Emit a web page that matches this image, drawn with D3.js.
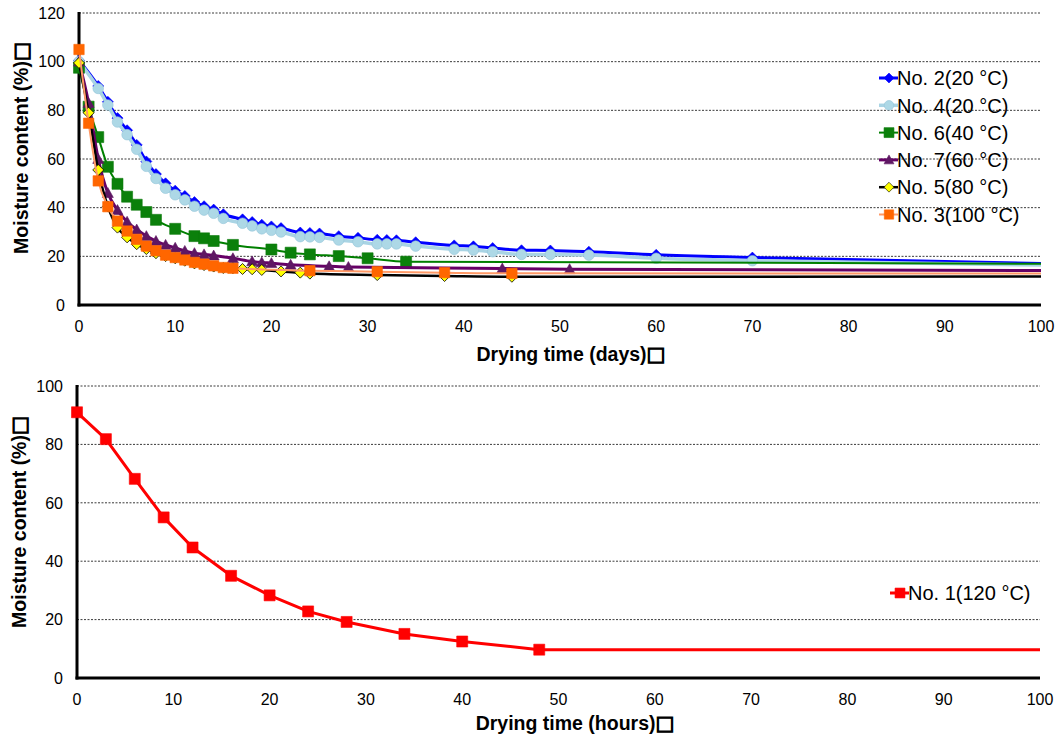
<!DOCTYPE html>
<html><head><meta charset="utf-8">
<script src="https://cdn.jsdelivr.net/npm/d3@7"></script>
<style>
body{margin:0;background:#fff}
text{font-family:"Liberation Sans",Arial,Helvetica,sans-serif;fill:#000}
</style>
</head><body>
<svg id="chart" width="1062" height="740"></svg>
<script>
// ---------- data (top chart: drying time in days) ----------
const xTicksTop = [0,10,20,30,40,50,60,70,80,90,100];
const yTicksTop = [0,20,40,60,80,100,120];

const daysNo2 = [0,2,3,4,5,6,7,8,9,10,11,12,13,14,15,17,18,19,20,21,23,24,25,27,29,31,32,33,35,39,41,43,46,49,53,60,70,120];
const valsNo2 = [100.5,90,83.5,76.8,71.8,65.8,59,53.8,50,47,44.8,42.3,40.6,39.2,37.3,35.2,34.1,33,32.3,31.6,29.8,29.6,29.4,28.3,27.6,26.8,26.7,26.6,25.8,24.5,24.1,23.4,22.5,22.4,21.9,20.6,19.5,15.5];

const daysNo4 = [0,2,3,4,5,6,7,8,9,10,11,12,13,14,15,17,18,19,20,21,23,24,25,27,29,31,32,33,35,39,41,43,46,49,53,60,70,120];
const valsNo4 = [100,89,82.2,75.2,70,64,57,52,48,45.3,43.2,40.6,39,37.7,35.6,33.6,32.5,31.3,30.7,30,28.1,28,27.8,26.7,26,25.1,25.1,25.1,24.2,22.9,22.6,21.9,20.8,20.8,20.5,19.2,18.2,15.2];

const daysNo6 = [0,1,2,3,4,5,6,7,8,10,12,13,14,16,20,22,24,27,30,34,120];
const valsNo6 = [97.5,81.5,69,56.8,49.8,44.5,41.2,38.2,35,31.3,28.3,27.4,26.3,24.7,22.8,21.5,20.8,20.1,19.2,17.8,16.7];

const daysNo7 = [0,1,2,3,4,5,6,7,8,9,10,11,12,13,14,16,18,19,20,22,26,28,44,51,120];
const valsNo7 = [100,83,60,46,39,34.2,31,28.3,26.3,24.7,23.5,22.2,21.3,20.8,20.3,19.2,17.9,17.5,17.2,16.5,15.9,15.6,15.0,14.7,13.9];

const daysNo5 = [0,1,2,3,4,5,6,7,8,9,10,11,12,13,14,15,16,17,18,19,21,23,24,31,38,45,120];
const valsNo5 = [99.5,79,55.5,40.5,31.8,27.8,25,23,21.3,20.1,19.2,18.2,17.1,16.4,15.8,15.2,15.1,14.8,14.7,14.4,13.8,13.3,12.9,12.3,11.9,11.6,11.7];

const daysNo3 = [0,1,2,3,4,5,6,7,8,9,10,11,12,13,14,15,16,24,31,38,45,120];
const valsNo3 = [105,74.7,51,40.4,34.5,30.4,27,24.2,22.3,20.5,19.5,18.5,17.5,16.8,16.1,15.4,15.1,14.1,13.7,13.3,13.0,12.9];

const legendTop = ["No. 2(20 °C)","No. 4(20 °C)","No. 6(40 °C)","No. 7(60 °C)","No. 5(80 °C)","No. 3(100 °C)"];

// ---------- data (bottom chart: drying time in hours) ----------
const xTicksBottom = [0,10,20,30,40,50,60,70,80,90,100];
const yTicksBottom = [0,20,40,60,80,100];
const hoursNo1 = [0,3,6,9,12,16,20,24,28,34,40,48,120];
const valsNo1 = [91,81.8,68.2,55,44.7,35,28.3,22.8,19.2,15.1,12.5,9.7,9.7];
const legendBottom = ["No. 1(120 °C)"];

const titleTopX = "Drying time (days)";
const titleBottomX = "Drying time (hours)";
const titleY = "Moisture content (%)";
const boxChar = "\u25A1";

// ---------- styles ----------
const seriesTop = [
  {name:legendTop[0], days:daysNo2, vals:valsNo2, line:"#0000ff", lw:3,   shape:"diamond",  fill:"#0000ff", stroke:"#0000ff", size:5.5},
  {name:legendTop[1], days:daysNo4, vals:valsNo4, line:"#a9d4e4", lw:3.5, shape:"circle",   fill:"#add8e6", stroke:"#93c4d8", size:5.3},
  {name:legendTop[2], days:daysNo6, vals:valsNo6, line:"#008000", lw:2,   shape:"square",   fill:"#0b800b", stroke:"#0b7a0b", size:5.5},
  {name:legendTop[3], days:daysNo7, vals:valsNo7, line:"#660066", lw:3,   shape:"triangle", fill:"#5e1763", stroke:"#5e1763", size:5.5},
  {name:legendTop[4], days:daysNo5, vals:valsNo5, line:"#000000", lw:2.5, shape:"diamond",  fill:"#ffff00", stroke:"#000000", size:5.5},
  {name:legendTop[5], days:daysNo3, vals:valsNo3, line:"#ff9966", lw:2,   shape:"square",   fill:"#ff6600", stroke:"#ff6600", size:5.2}
];
const seriesBottom = [
  {name:legendBottom[0], days:hoursNo1, vals:valsNo1, line:"#ff0000", lw:3, shape:"square", fill:"#ff0000", stroke:"#ff0000", size:5.5}
];

const svg = d3.select("#chart");

function markerPath(shape, s){
  if(shape==="diamond") return `M0,${-s}L${s},0L0,${s}L${-s},0Z`;
  if(shape==="square") return `M${-s},${-s}H${s}V${s}H${-s}Z`;
  if(shape==="triangle") return `M0,${-s}L${s},${s*0.8}L${-s},${s*0.8}Z`;
  return d3.symbol(d3.symbolCircle, Math.PI*s*s)();
}

function titleText(sel, str){
  sel.append("tspan").text(str);
  sel.append("tspan").attr("font-family","DejaVu Sans").attr("font-weight","bold").attr("font-size",20)
    .attr("stroke","#000").attr("stroke-width",1.1).text(boxChar);
}

function drawChart(cfg){
  const g = svg.append("g");
  const x = d3.scaleLinear().domain([0,100]).range([cfg.left, cfg.right]);
  const y = d3.scaleLinear().domain([0,cfg.ymax]).range([cfg.bottom, cfg.top]);

  // gridlines
  g.append("g").selectAll("line").data(cfg.yTicks.filter(d=>d>0)).join("line")
    .attr("x1", cfg.left).attr("x2", cfg.right)
    .attr("y1", d=>y(d)).attr("y2", d=>y(d))
    .attr("stroke","#3a3a3a").attr("stroke-width",1).attr("stroke-dasharray","2,1.5");

  // y tick labels
  g.append("g").selectAll("text").data(cfg.yTicks).join("text")
    .attr("x", cfg.left - 14).attr("y", d=>y(d)).attr("dy","0.36em")
    .attr("text-anchor","end").attr("font-size",16).text(d=>d);
  // x tick labels
  g.append("g").selectAll("text").data(cfg.xTicks).join("text")
    .attr("x", d=>x(d)).attr("y", cfg.bottom + 21).attr("dy","0.36em")
    .attr("text-anchor","middle").attr("font-size",16).text(d=>d);

  // axes
  g.append("line").attr("x1",cfg.left).attr("x2",cfg.left).attr("y1",cfg.top-1).attr("y2",cfg.bottom+1.5)
    .attr("stroke","#000").attr("stroke-width",3);
  g.append("line").attr("x1",cfg.left-1.5).attr("x2",cfg.right).attr("y1",cfg.bottom).attr("y2",cfg.bottom)
    .attr("stroke","#000").attr("stroke-width",3);

  // titles
  g.append("text").attr("x", cfg.xTitleX).attr("y", cfg.xTitleY).attr("text-anchor","middle")
    .attr("font-size",19.5).attr("font-weight","bold").call(titleText, cfg.xTitle);
  g.append("text").attr("transform",`translate(${cfg.yTitleX},${cfg.yTitleY}) rotate(-90)`)
    .attr("text-anchor","middle").attr("font-size",19.5).attr("font-weight","bold").call(titleText, titleY);

  // clip
  const cid = "clip"+cfg.id;
  svg.append("clipPath").attr("id",cid).append("rect")
    .attr("x", cfg.left-20).attr("y", cfg.top-20).attr("width", cfg.right-cfg.left+20).attr("height", cfg.bottom-cfg.top+40);

  const plot = g.append("g").attr("clip-path",`url(#${cid})`);
  const line = d3.line().x(d=>x(d[0])).y(d=>y(d[1])).curve(cfg.curve);
  cfg.series.forEach(s=>{
    const pts = s.days.map((d,i)=>[d,s.vals[i]]);
    const sg = plot.append("g");
    sg.append("path").datum(pts).attr("d",line).attr("fill","none")
      .attr("stroke",s.line).attr("stroke-width",s.lw).attr("stroke-linejoin","round");
    sg.selectAll("path.m").data(pts.filter(p=>p[0]<=100)).join("path").attr("class","m")
      .attr("transform",p=>`translate(${x(p[0])},${y(p[1])})`)
      .attr("d",markerPath(s.shape,s.size))
      .attr("fill",s.fill).attr("stroke",s.stroke).attr("stroke-width",s.stroke==="#000000"?0.8:0.6);
  });

  // legend
  const lg = g.append("g");
  cfg.series.forEach((s,i)=>{
    const ly = cfg.legY + i*cfg.legStep;
    lg.append("line").attr("x1",cfg.legX-10).attr("x2",cfg.legX+9).attr("y1",ly).attr("y2",ly)
      .attr("stroke",s.line).attr("stroke-width",s.lw);
    lg.append("path").attr("transform",`translate(${cfg.legX},${ly})`).attr("d",markerPath(s.shape,s.size*0.9))
      .attr("fill",s.fill).attr("stroke",s.stroke).attr("stroke-width",0.6);
    lg.append("text").attr("x",cfg.legX+8).attr("y",ly).attr("dy","0.36em").attr("font-size",20).text(s.name);
  });
}

drawChart({id:"top", left:79, right:1041, top:13, bottom:305, ymax:120,
  xTicks:xTicksTop, yTicks:yTicksTop, series:seriesTop, curve:d3.curveMonotoneX,
  xTitle:titleTopX, xTitleX:571, xTitleY:361, yTitleX:28, yTitleY:148,
  legX:889, legY:78, legStep:27.3});

drawChart({id:"bot", left:77, right:1040, top:386, bottom:678, ymax:100,
  xTicks:xTicksBottom, yTicks:yTicksBottom, series:seriesBottom, curve:d3.curveLinear,
  xTitle:titleBottomX, xTitleX:575, xTitleY:730, yTitleX:26, yTitleY:522,
  legX:900, legY:593, legStep:27});
</script>
</body></html>
